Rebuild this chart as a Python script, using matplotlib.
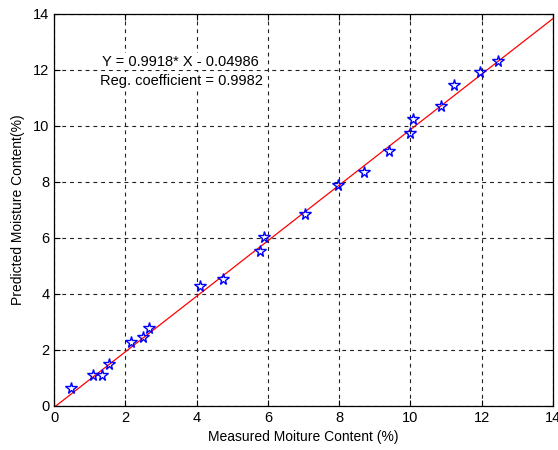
import matplotlib
matplotlib.use("Agg")
import matplotlib.pyplot as plt
import numpy as np

measured = [0.47, 1.09, 1.35, 1.54, 2.15, 2.50, 2.66, 4.08, 4.74, 5.77, 5.90,
            7.03, 7.98, 8.70, 9.39, 10.00, 10.08, 10.85, 11.23, 11.96, 12.46]
predicted = [0.65, 1.09, 1.12, 1.51, 2.28, 2.45, 2.80, 4.27, 4.54, 5.55, 6.05,
             6.85, 7.88, 8.36, 9.11, 9.75, 10.23, 10.72, 11.46, 11.94, 12.33]
slope = 0.9918
intercept = -0.04986
reg_coef = 0.9982
ticks = [0, 2, 4, 6, 8, 10, 12, 14]

plt.rcParams['font.family'] = ['Liberation Sans', 'DejaVu Sans']

fig = plt.figure(figsize=(5.58, 4.5), dpi=100)
ax = fig.add_axes([0.097, 0.098, 0.894, 0.871])

xl = np.array([0, 14])
ax.plot(xl, slope * xl + intercept, color='red', lw=0.9, zorder=2)
ax.plot(measured, predicted, linestyle='none', marker='*', markersize=8.5,
        markerfacecolor='none', markeredgecolor='blue', markeredgewidth=1.0, zorder=3)

ax.set_xlim(0, 14)
ax.set_ylim(0, 14)
ax.set_xticks(ticks)
ax.set_yticks(ticks)
ax.tick_params(direction='in', top=True, right=True, labelsize=10.5, length=4, width=0.8)
ax.grid(True, color='#222222', linestyle=(0, (3.5, 3.5)), linewidth=0.8)
ax.set_axisbelow(True)
for s in ax.spines.values():
    s.set_linewidth(0.9)

ax.text(1.33, 12.3, f"Y = {slope}* X - {abs(intercept)}",
        ha='left', va='center', fontsize=10.5,
        bbox=dict(facecolor='white', edgecolor='none', pad=1), zorder=4)
ax.text(1.30, 11.6, f"Reg. coefficient = {reg_coef}",
        ha='left', va='center', fontsize=10.5,
        bbox=dict(facecolor='white', edgecolor='none', pad=1), zorder=4)

ax.set_xlabel("Measured Moiture Content (%)", fontsize=10, labelpad=4)
ax.set_ylabel("Predicted Moisture Content(%)", fontsize=10, labelpad=6)

fig.savefig("out.png", dpi=100)
